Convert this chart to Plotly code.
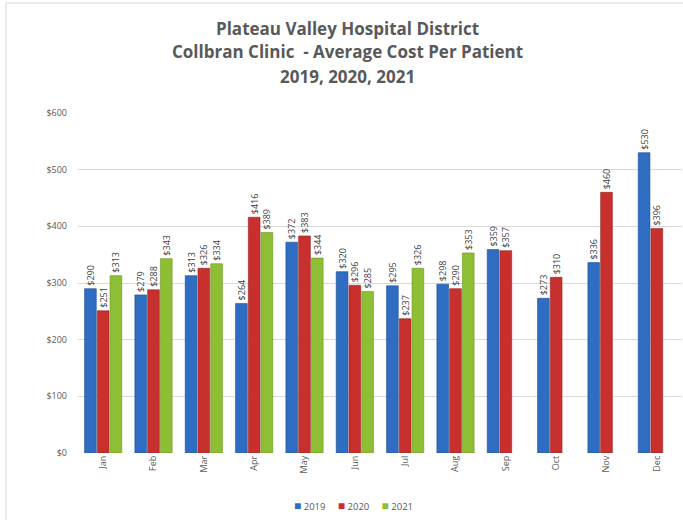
import plotly.graph_objects as go

months = ["Jan", "Feb", "Mar", "Apr", "May", "Jun", "Jul", "Aug", "Sep", "Oct", "Nov", "Dec"]
cost_2019 = [290, 279, 313, 264, 372, 320, 295, 298, 359, 273, 336, 530]
cost_2020 = [251, 288, 326, 416, 383, 296, 237, 290, 357, 310, 460, 396]
cost_2021 = [313, 343, 334, 389, 344, 285, 326, 353, None, None, None, None]
y_ticks = [0, 100, 200, 300, 400, 500, 600]
y_tick_labels = ["$" + str(v) for v in y_ticks]

series = [
    ("2019", cost_2019, "#2E6DC2", "#1F4F94"),
    ("2020", cost_2020, "#C8302D", "#962220"),
    ("2021", cost_2021, "#8DBE34", "#6A9424"),
]

fig = go.Figure()
for name, vals, col, edge in series:
    fig.add_trace(go.Bar(
        x=months, y=vals, name=name,
        marker=dict(color=col, line=dict(color=edge, width=0.6)),
        text=[("$" + str(v)) if v is not None else "" for v in vals],
        textposition="outside", textangle=-90, constraintext="none",
        textfont=dict(size=9, color="#404040", family="Open Sans"),
        cliponaxis=False, showlegend=False,
    ))

L, R, T, B = 78, 1, 113, 67
H = 520 - T - B
W = 683 - L - R

def py(px):
    return (520 - B - px) / H

def px_x(px):
    return (px - L) / W

title_lines = [
    ("Plateau Valley Hospital District", 28),
    ("Collbran Clinic  - Average Cost Per Patient", 52),
    ("2019, 2020, 2021", 77),
]
annotations = []
for txt, ypx in title_lines:
    annotations.append(dict(
        text="<b>" + txt + "</b>", x=px_x(347), y=py(ypx), xref="paper", yref="paper",
        xanchor="center", yanchor="middle", showarrow=False,
        font=dict(size=17, color="#595959", family="Open Sans"),
    ))

legend_text = "&nbsp;&nbsp;&nbsp;&nbsp;&nbsp;".join(
    "<span style='color:%s;font-size:12px'>■</span> %s" % (col, name) for name, _, col, _ in series
)
annotations.append(dict(
    text=legend_text, x=px_x(353), y=py(506), xref="paper", yref="paper",
    xanchor="center", yanchor="middle", showarrow=False,
    font=dict(size=9.5, color="#595959", family="Open Sans"),
))

fig.update_layout(
    width=683, height=520,
    margin=dict(l=L, r=R, t=T, b=B),
    paper_bgcolor="white", plot_bgcolor="white",
    barmode="group", bargap=0.24, bargroupgap=0.08,
    annotations=annotations,
    font=dict(family="Open Sans", color="#595959"),
    showlegend=False,
    shapes=[dict(type="rect", xref="paper", yref="paper",
                 x0=px_x(6), x1=px_x(690), y0=py(530), y1=py(3),
                 line=dict(color="#D9D9D9", width=1), layer="below")],
)
fig.update_xaxes(tickangle=-90, tickfont=dict(size=9, color="#595959"), showline=False,
                 ticks="", showgrid=False)
fig.update_yaxes(range=[0, 600], tickvals=y_ticks, ticktext=y_tick_labels,
                 tickfont=dict(size=9, color="#595959"), showgrid=True, gridcolor="#D9D9D9",
                 gridwidth=1, zeroline=False, showline=False, ticks="", ticklabelstandoff=10)

fig.write_html("out.html")
